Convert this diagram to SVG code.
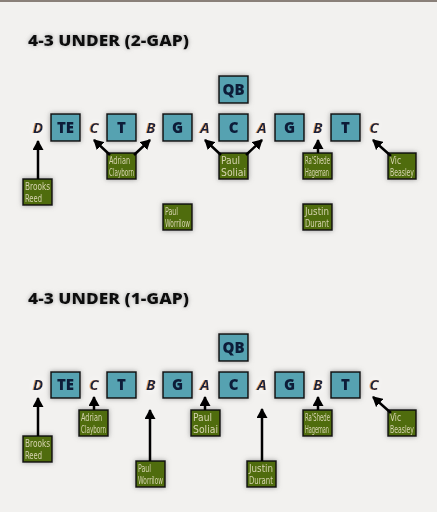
<svg xmlns="http://www.w3.org/2000/svg" width="437" height="512" viewBox="0 0 437 512">
<defs>
  <filter id="sh" x="-40%" y="-40%" width="180%" height="180%">
    <feDropShadow dx="0" dy="0" stdDeviation="2.5" flood-color="#777" flood-opacity="0.7"/>
  </filter>
  <filter id="glow" x="-50%" y="-50%" width="200%" height="200%">
    <feGaussianBlur in="SourceAlpha" stdDeviation="0.7" result="b"/>
    <feOffset in="b" dx="-0.6" dy="0.3" result="bo"/>
    <feFlood flood-color="#e89a3a" flood-opacity="0.85"/>
    <feComposite in2="bo" operator="in" result="o"/>
    <feGaussianBlur in="SourceAlpha" stdDeviation="3" result="w0"/>
    <feFlood flood-color="#ffffff" flood-opacity="0.9"/>
    <feComposite in2="w0" operator="in" result="w"/>
    <feMerge><feMergeNode in="w"/><feMergeNode in="o"/><feMergeNode in="SourceGraphic"/></feMerge>
  </filter>
  <filter id="tsh" x="-20%" y="-60%" width="140%" height="220%">
    <feDropShadow dx="0" dy="0" stdDeviation="2" flood-color="#999" flood-opacity="0.8"/>
  </filter>
  <marker id="ah" markerUnits="userSpaceOnUse" markerWidth="11" markerHeight="11" refX="9" refY="5.5" orient="auto">
    <path d="M0,0 L10,5.5 L0,11 z" fill="#000"/>
  </marker>
</defs>
<style>
  .title{font-family:"Open Sans","DejaVu Sans",sans-serif;font-weight:800;font-size:16px;fill:#111}
  .box{fill:#56a2b1;stroke:#111;stroke-width:1.5}
  .bt{font-family:"Open Sans","DejaVu Sans",sans-serif;font-weight:800;font-size:15px;fill:#0c1c38;text-anchor:middle}
  .gap{font-family:"Open Sans","DejaVu Sans",sans-serif;font-style:italic;font-weight:700;font-size:15px;fill:#14213f;text-anchor:middle}
  .pl{fill:#4f6c0c;stroke:#111;stroke-width:1.5}
  .pt{font-family:"Liberation Sans Narrow","DejaVu Sans Condensed","Liberation Sans",sans-serif;font-size:10px;fill:#d6d3b0}
  .con line{stroke:#000;stroke-width:2.5;marker-end:url(#ah)}
</style>
<rect x="0" y="0" width="437" height="512" fill="#f2f1ef"/>
<rect x="0" y="0" width="437" height="2" fill="#8a8079"/>

<!-- Section 1 -->
<text class="title" x="28" y="46" textLength="161" lengthAdjust="spacingAndGlyphs" filter="url(#tsh)">4-3 UNDER (2-GAP)</text>

<g filter="url(#sh)">
<g id="qb1"><rect class="box" x="219" y="76" width="29" height="27"/><text class="bt" x="233.5" y="95">QB</text></g>
<g id="te1"><rect class="box" x="51" y="114" width="29" height="27"/><text class="bt" x="65.5" y="133">TE</text></g>
<g id="t1a"><rect class="box" x="107" y="114" width="29" height="27"/><text class="bt" x="121.5" y="133">T</text></g>
<g id="g1a"><rect class="box" x="163" y="114" width="29" height="27"/><text class="bt" x="177.5" y="133">G</text></g>
<g id="c1"><rect class="box" x="219" y="114" width="29" height="27"/><text class="bt" x="233.5" y="133">C</text></g>
<g id="g1b"><rect class="box" x="275" y="114" width="29" height="27"/><text class="bt" x="289.5" y="133">G</text></g>
<g id="t1b"><rect class="box" x="331" y="114" width="29" height="27"/><text class="bt" x="345.5" y="133">T</text></g>
</g>
<g filter="url(#glow)">
<g id="gD1"><text class="gap" x="38" y="133">D</text></g>
<g id="gC1a"><text class="gap" x="94" y="133">C</text></g>
<g id="gB1a"><text class="gap" x="151" y="133">B</text></g>
<g id="gA1a"><text class="gap" x="205" y="133">A</text></g>
<g id="gA1b"><text class="gap" x="262" y="133">A</text></g>
<g id="gB1b"><text class="gap" x="318" y="133">B</text></g>
<g id="gC1b"><text class="gap" x="374" y="133">C</text></g>
</g>

<g filter="url(#sh)">
<g id="reed1"><rect class="pl" x="23" y="179" width="29" height="26"/><text class="pt" x="25" y="190" textLength="25" lengthAdjust="spacingAndGlyphs">Brooks</text><text class="pt" x="25" y="202" textLength="17" lengthAdjust="spacingAndGlyphs">Reed</text></g>
<g id="clayborn1"><rect class="pl" x="107" y="153" width="29" height="26"/><text class="pt" x="109" y="164" textLength="21" lengthAdjust="spacingAndGlyphs">Adrian</text><text class="pt" x="109" y="176" textLength="25" lengthAdjust="spacingAndGlyphs">Clayborn</text></g>
<g id="soliai1"><rect class="pl" x="219" y="153" width="29" height="26"/><text class="pt" x="221" y="164" textLength="19" lengthAdjust="spacingAndGlyphs">Paul</text><text class="pt" x="221" y="176" textLength="25" lengthAdjust="spacingAndGlyphs">Soliai</text></g>
<g id="hageman1"><rect class="pl" x="303" y="153" width="29" height="26"/><text class="pt" x="305" y="164" textLength="25" lengthAdjust="spacingAndGlyphs">Ra'Shede</text><text class="pt" x="305" y="176" textLength="24" lengthAdjust="spacingAndGlyphs">Hageman</text></g>
<g id="beasley1"><rect class="pl" x="388" y="153" width="28" height="26"/><text class="pt" x="390" y="164" textLength="11" lengthAdjust="spacingAndGlyphs">Vic</text><text class="pt" x="390" y="176" textLength="24" lengthAdjust="spacingAndGlyphs">Beasley</text></g>
<g id="worrilow1"><rect class="pl" x="163" y="204" width="29" height="26"/><text class="pt" x="165" y="215" textLength="13" lengthAdjust="spacingAndGlyphs">Paul</text><text class="pt" x="165" y="227" textLength="25" lengthAdjust="spacingAndGlyphs">Worrilow</text></g>
<g id="durant1"><rect class="pl" x="303" y="204" width="29" height="26"/><text class="pt" x="305" y="215" textLength="24" lengthAdjust="spacingAndGlyphs">Justin</text><text class="pt" x="305" y="227" textLength="24" lengthAdjust="spacingAndGlyphs">Durant</text></g>
</g>

<!-- Section 2 -->
<text class="title" x="28" y="304" textLength="161" lengthAdjust="spacingAndGlyphs" filter="url(#tsh)">4-3 UNDER (1-GAP)</text>

<g filter="url(#sh)">
<g id="qb2"><rect class="box" x="219" y="334" width="29" height="27"/><text class="bt" x="233.5" y="353">QB</text></g>
<g id="te2"><rect class="box" x="51" y="372" width="29" height="26"/><text class="bt" x="65.5" y="390">TE</text></g>
<g id="t2a"><rect class="box" x="107" y="372" width="29" height="26"/><text class="bt" x="121.5" y="390">T</text></g>
<g id="g2a"><rect class="box" x="163" y="372" width="29" height="26"/><text class="bt" x="177.5" y="390">G</text></g>
<g id="c2"><rect class="box" x="219" y="372" width="29" height="26"/><text class="bt" x="233.5" y="390">C</text></g>
<g id="g2b"><rect class="box" x="275" y="372" width="29" height="26"/><text class="bt" x="289.5" y="390">G</text></g>
<g id="t2b"><rect class="box" x="331" y="372" width="29" height="26"/><text class="bt" x="345.5" y="390">T</text></g>
</g>
<g filter="url(#glow)">
<g id="gD2"><text class="gap" x="38" y="390">D</text></g>
<g id="gC2a"><text class="gap" x="94" y="390">C</text></g>
<g id="gB2a"><text class="gap" x="151" y="390">B</text></g>
<g id="gA2a"><text class="gap" x="205" y="390">A</text></g>
<g id="gA2b"><text class="gap" x="262" y="390">A</text></g>
<g id="gB2b"><text class="gap" x="318" y="390">B</text></g>
<g id="gC2b"><text class="gap" x="374" y="390">C</text></g>
</g>

<g filter="url(#sh)">
<g id="reed2"><rect class="pl" x="23" y="436" width="29" height="26"/><text class="pt" x="25" y="447" textLength="25" lengthAdjust="spacingAndGlyphs">Brooks</text><text class="pt" x="25" y="459" textLength="17" lengthAdjust="spacingAndGlyphs">Reed</text></g>
<g id="clayborn2"><rect class="pl" x="79" y="410" width="29" height="26"/><text class="pt" x="81" y="421" textLength="21" lengthAdjust="spacingAndGlyphs">Adrian</text><text class="pt" x="81" y="433" textLength="25" lengthAdjust="spacingAndGlyphs">Clayborn</text></g>
<g id="soliai2"><rect class="pl" x="191" y="410" width="29" height="26"/><text class="pt" x="193" y="421" textLength="19" lengthAdjust="spacingAndGlyphs">Paul</text><text class="pt" x="193" y="433" textLength="25" lengthAdjust="spacingAndGlyphs">Soliai</text></g>
<g id="hageman2"><rect class="pl" x="303" y="410" width="29" height="26"/><text class="pt" x="305" y="421" textLength="25" lengthAdjust="spacingAndGlyphs">Ra'Shede</text><text class="pt" x="305" y="433" textLength="24" lengthAdjust="spacingAndGlyphs">Hageman</text></g>
<g id="beasley2"><rect class="pl" x="388" y="410" width="28" height="26"/><text class="pt" x="390" y="421" textLength="11" lengthAdjust="spacingAndGlyphs">Vic</text><text class="pt" x="390" y="433" textLength="24" lengthAdjust="spacingAndGlyphs">Beasley</text></g>
<g id="worrilow2"><rect class="pl" x="136" y="461" width="29" height="26"/><text class="pt" x="138" y="472" textLength="13" lengthAdjust="spacingAndGlyphs">Paul</text><text class="pt" x="138" y="484" textLength="25" lengthAdjust="spacingAndGlyphs">Worrilow</text></g>
<g id="durant2"><rect class="pl" x="247" y="461" width="29" height="26"/><text class="pt" x="249" y="472" textLength="24" lengthAdjust="spacingAndGlyphs">Justin</text><text class="pt" x="249" y="484" textLength="24" lengthAdjust="spacingAndGlyphs">Durant</text></g>
</g>

<g id="connectors" class="con">
  <line x1="38" y1="179" x2="38" y2="141"/>
  <line x1="110" y1="155" x2="94" y2="140"/>
  <line x1="134" y1="155" x2="150" y2="140"/>
  <line x1="221" y1="155" x2="205" y2="140"/>
  <line x1="246" y1="155" x2="262" y2="140"/>
  <line x1="318" y1="153" x2="318" y2="140"/>
  <line x1="391" y1="156" x2="373" y2="140"/>
  <line x1="38" y1="436" x2="38" y2="398"/>
  <line x1="94" y1="410" x2="94" y2="397"/>
  <line x1="150" y1="461" x2="150" y2="410"/>
  <line x1="205" y1="410" x2="205" y2="397"/>
  <line x1="262" y1="461" x2="262" y2="409"/>
  <line x1="318" y1="410" x2="318" y2="397"/>
  <line x1="391" y1="413" x2="373" y2="397"/>
</g>
</svg>
